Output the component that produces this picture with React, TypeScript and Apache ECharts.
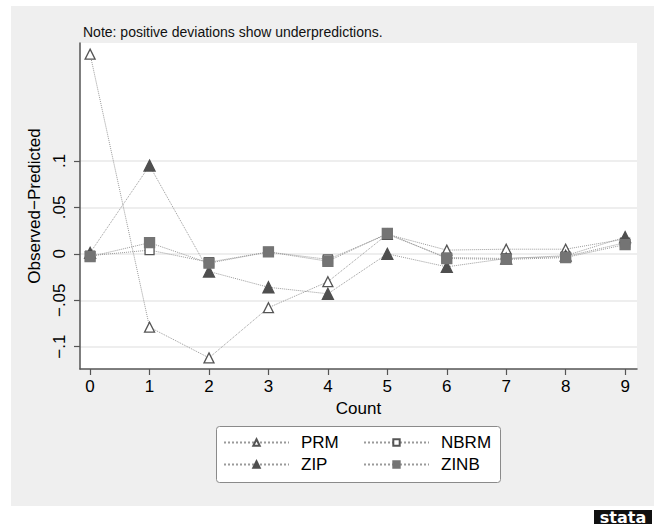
import React, { useEffect, useRef } from "react";
import * as echarts from "echarts";

const counts = [0, 1, 2, 3, 4, 5, 6, 7, 8, 9];
const prm = [0.215, -0.079, -0.112, -0.058, -0.030, 0.021, 0.004, 0.005, 0.005, 0.016];
const nbrm = [-0.002, 0.004, -0.009, 0.002, -0.006, 0.021, -0.004, -0.005, -0.003, 0.012];
const zip = [0.001, 0.095, -0.019, -0.036, -0.043, 0.0, -0.014, -0.005, -0.002, 0.018];
const zinb = [-0.003, 0.012, -0.010, 0.002, -0.008, 0.022, -0.005, -0.006, -0.004, 0.010];
const yTicks = [-0.1, -0.05, 0, 0.05, 0.1];
const xTicks = counts;
const legendCol1 = ["PRM", "ZIP"];
const legendCol2 = ["NBRM", "ZINB"];

const FONT = "'Liberation Sans', Arial, Helvetica, sans-serif";

function fmtY(v: number): string {
  if (Math.abs(v) < 1e-9) return "0";
  const s = String(Math.abs(Number(v.toFixed(4)))).replace(/^0/, "");
  return (v < 0 ? "\u2212" : "") + s;
}

export default function App() {
  const ref = useRef<HTMLDivElement>(null);
  useEffect(() => {
    document.body.style.margin = "0";
    const chart = echarts.init(ref.current!, null, { renderer: "svg" });
    const lineStyle = { color: "#9a9a9a", width: 1, type: "dotted" as const };
    const mk = (name: string, data: number[], symbol: string, size: number, fill: string, border: string) => ({
      name,
      type: "line",
      data: counts.map((c, i) => [c, data[i]]),
      symbol,
      symbolSize: size,
      showSymbol: true,
      lineStyle,
      itemStyle: { color: fill, borderColor: border, borderWidth: 1.3 },
      emphasis: { disabled: true },
    });
    const legendBase = {
      top: 434,
      orient: "vertical",
      itemWidth: 65,
      itemHeight: 8,
      itemGap: 5,
      padding: 0,
      selectedMode: false,
      textStyle: { fontSize: 17, color: "#000", padding: [0, 0, 0, 7], fontFamily: FONT },
    };
    chart.setOption({
      animation: false,
      backgroundColor: "#ffffff",
      textStyle: { fontFamily: FONT },
      graphic: [
        { type: "rect", z: -100, shape: { x: 11, y: 6, width: 643, height: 500 }, style: { fill: "#efefef" } },
        {
          type: "rect",
          z: -50,
          shape: { x: 216.5, y: 426.5, width: 284, height: 56, r: 3 },
          style: { fill: "#ffffff", stroke: "#8a8a8a", lineWidth: 1 },
        },
        {
          type: "text",
          left: 83,
          top: 25,
          style: { text: "Note: positive deviations show underpredictions.", fontSize: 14, fontFamily: FONT, fill: "#111" },
        },
        { type: "rect", shape: { x: 594, y: 510, width: 58, height: 14 }, style: { fill: "#111" } },
        {
          type: "text",
          x: 623,
          y: 517.5,
          style: {
            text: "stata",
            fontSize: 16,
            fontWeight: "bold",
            fontFamily: "'DejaVu Sans', sans-serif",
            fill: "#fff",
            align: "center",
            verticalAlign: "middle",
          },
        },
      ],
      grid: {
        left: 80,
        right: 17,
        top: 43,
        bottom: 527 - 369,
        show: true,
        backgroundColor: "#ffffff",
        borderWidth: 0,
      },
      legend: [
        { ...legendBase, left: 223, data: legendCol1 },
        { ...legendBase, left: 363, data: legendCol2 },
      ],
      xAxis: {
        type: "value",
        min: -0.17,
        max: 9.2,
        name: "Count",
        nameLocation: "middle",
        nameGap: 28,
        nameTextStyle: { fontSize: 17, color: "#000" },
        axisLine: { show: true, onZero: false, lineStyle: { color: "#555", width: 1.5 } },
        axisTick: { show: true, length: 6, customValues: xTicks, lineStyle: { color: "#555", width: 1.2 } },
        axisLabel: { customValues: xTicks, fontSize: 17, color: "#000", margin: 9, formatter: (v: number) => String(v) },
        splitLine: { show: false },
      },
      yAxis: {
        type: "value",
        min: -0.124,
        max: 0.227,
        name: "Observed\u2212Predicted",
        nameLocation: "middle",
        nameRotate: 90,
        nameGap: 25,
        nameTextStyle: { fontSize: 17, color: "#000" },
        axisLine: { show: true, onZero: false, lineStyle: { color: "#555", width: 1.5 } },
        axisTick: { show: true, length: 6, customValues: yTicks, lineStyle: { color: "#555", width: 1.2 } },
        axisLabel: { customValues: yTicks, rotate: 90, fontSize: 17, color: "#000", margin: 12, formatter: fmtY },
        splitLine: { show: true, lineStyle: { color: "#e9e9e9", width: 1.5 } },
      },
      series: [
        mk("PRM", prm, "triangle", 10, "#ffffff", "#555555"),
        mk("NBRM", nbrm, "rect", 9, "#ffffff", "#555555"),
        mk("ZIP", zip, "triangle", 11, "#4f4f4f", "#4f4f4f"),
        mk("ZINB", zinb, "rect", 10, "#747474", "#747474"),
      ],
    });
    return () => chart.dispose();
  }, []);
  return <div ref={ref} style={{ position: "absolute", left: 0, top: 0, width: 654, height: 527 }} />;
}
